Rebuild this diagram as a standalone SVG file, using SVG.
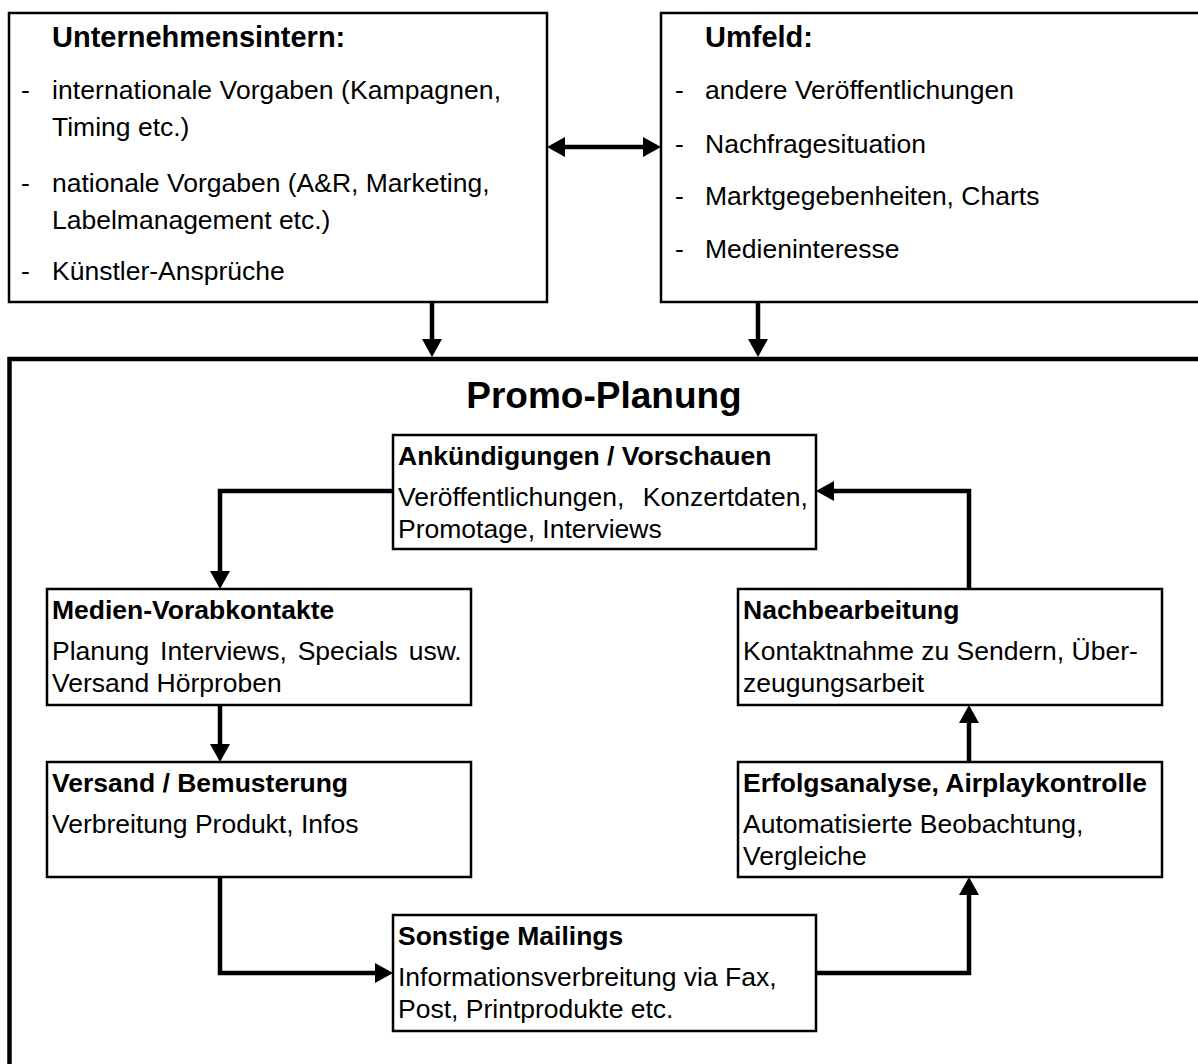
<svg xmlns="http://www.w3.org/2000/svg" width="1198" height="1064" viewBox="0 0 1198 1064">
<defs>
<style>
.box{fill:#fff;stroke:#000;stroke-width:2.5}
.outer{fill:none;stroke:#000;stroke-width:4.5}
.t{font-family:"Liberation Sans",Arial,sans-serif;font-size:26.5px;fill:#000}
.b{font-weight:bold}
.h{font-family:"Liberation Sans",Arial,sans-serif;font-size:29px;font-weight:bold;fill:#000}
.title{font-family:"Liberation Sans",Arial,sans-serif;font-size:37px;font-weight:bold;fill:#000}
.c{fill:none;stroke:#000;stroke-width:4.5;stroke-linejoin:miter}
</style>
<marker id="ah" markerUnits="userSpaceOnUse" markerWidth="18" markerHeight="20" refX="8" refY="10" orient="auto-start-reverse" viewBox="0 0 18 20">
<path d="M0,0 L18,10 L0,20 z" fill="#000"/>
</marker>
</defs>
<rect width="1198" height="1064" fill="#fff"/>

<g id="promo-planung">
<rect class="outer" x="9.5" y="359" width="1192" height="730"/>
<text class="title" x="604" y="408" text-anchor="middle">Promo-Planung</text>
</g>

<g id="unternehmensintern">
<rect class="box" x="9" y="13" width="538" height="289"/>
<text class="h" x="52" y="47">Unternehmensintern:</text>
<text class="t" x="21" y="99">-</text>
<text class="t" x="52" y="99" textLength="449">internationale Vorgaben (Kampagnen,</text>
<text class="t" x="52" y="136">Timing etc.)</text>
<text class="t" x="21" y="192">-</text>
<text class="t" x="52" y="192">nationale Vorgaben (A&amp;R, Marketing,</text>
<text class="t" x="52" y="229">Labelmanagement etc.)</text>
<text class="t" x="21" y="280">-</text>
<text class="t" x="52" y="280">Künstler-Ansprüche</text>
</g>

<g id="umfeld">
<rect class="box" x="661" y="13" width="545" height="289"/>
<text class="h" x="705" y="47">Umfeld:</text>
<text class="t" x="675" y="99">-</text>
<text class="t" x="705" y="99">andere Veröffentlichungen</text>
<text class="t" x="675" y="153">-</text>
<text class="t" x="705" y="153">Nachfragesituation</text>
<text class="t" x="675" y="205">-</text>
<text class="t" x="705" y="205">Marktgegebenheiten, Charts</text>
<text class="t" x="675" y="258">-</text>
<text class="t" x="705" y="258">Medieninteresse</text>
</g>

<g id="ankuendigungen">
<rect class="box" x="393" y="435" width="423" height="114"/>
<text class="t b" x="398" y="465">Ankündigungen / Vorschauen</text>
<text class="t" x="398" y="506" word-spacing="11">Veröffentlichungen, Konzertdaten,</text>
<text class="t" x="398" y="538">Promotage, Interviews</text>
</g>

<g id="medien-vorabkontakte">
<rect class="box" x="47" y="589" width="424" height="116"/>
<text class="t b" x="52" y="619">Medien-Vorabkontakte</text>
<text class="t" x="52" y="660" word-spacing="3.5">Planung Interviews, Specials usw.</text>
<text class="t" x="52" y="692">Versand Hörproben</text>
</g>

<g id="versand">
<rect class="box" x="47" y="762" width="424" height="115"/>
<text class="t b" x="52" y="792">Versand / Bemusterung</text>
<text class="t" x="52" y="833">Verbreitung Produkt, Infos</text>
</g>

<g id="sonstige-mailings">
<rect class="box" x="393" y="915" width="423" height="116"/>
<text class="t b" x="398" y="945">Sonstige Mailings</text>
<text class="t" x="398" y="986">Informationsverbreitung via Fax,</text>
<text class="t" x="398" y="1018">Post, Printprodukte etc.</text>
</g>

<g id="erfolgsanalyse">
<rect class="box" x="738" y="762" width="424" height="115"/>
<text class="t b" x="743" y="792">Erfolgsanalyse, Airplaykontrolle</text>
<text class="t" x="743" y="833">Automatisierte Beobachtung,</text>
<text class="t" x="743" y="865">Vergleiche</text>
</g>

<g id="nachbearbeitung">
<rect class="box" x="738" y="589" width="424" height="116"/>
<text class="t b" x="743" y="619">Nachbearbeitung</text>
<text class="t" x="743" y="660">Kontaktnahme zu Sendern, Über-</text>
<text class="t" x="743" y="692">zeugungsarbeit</text>
</g>

<g id="connectors">
<path class="c" d="M432,302 V347" marker-end="url(#ah)"/>
<path class="c" d="M758,302 V347" marker-end="url(#ah)"/>
<path class="c" d="M557,147 H651" marker-start="url(#ah)" marker-end="url(#ah)"/>
<path class="c" d="M393,491 H220 V579" marker-end="url(#ah)"/>
<path class="c" d="M220,705 V752" marker-end="url(#ah)"/>
<path class="c" d="M220,877 V973 H383" marker-end="url(#ah)"/>
<path class="c" d="M816,973 H969 V887" marker-end="url(#ah)"/>
<path class="c" d="M969,762 V715" marker-end="url(#ah)"/>
<path class="c" d="M969,589 V491 H826" marker-end="url(#ah)"/>
</g>
</svg>
